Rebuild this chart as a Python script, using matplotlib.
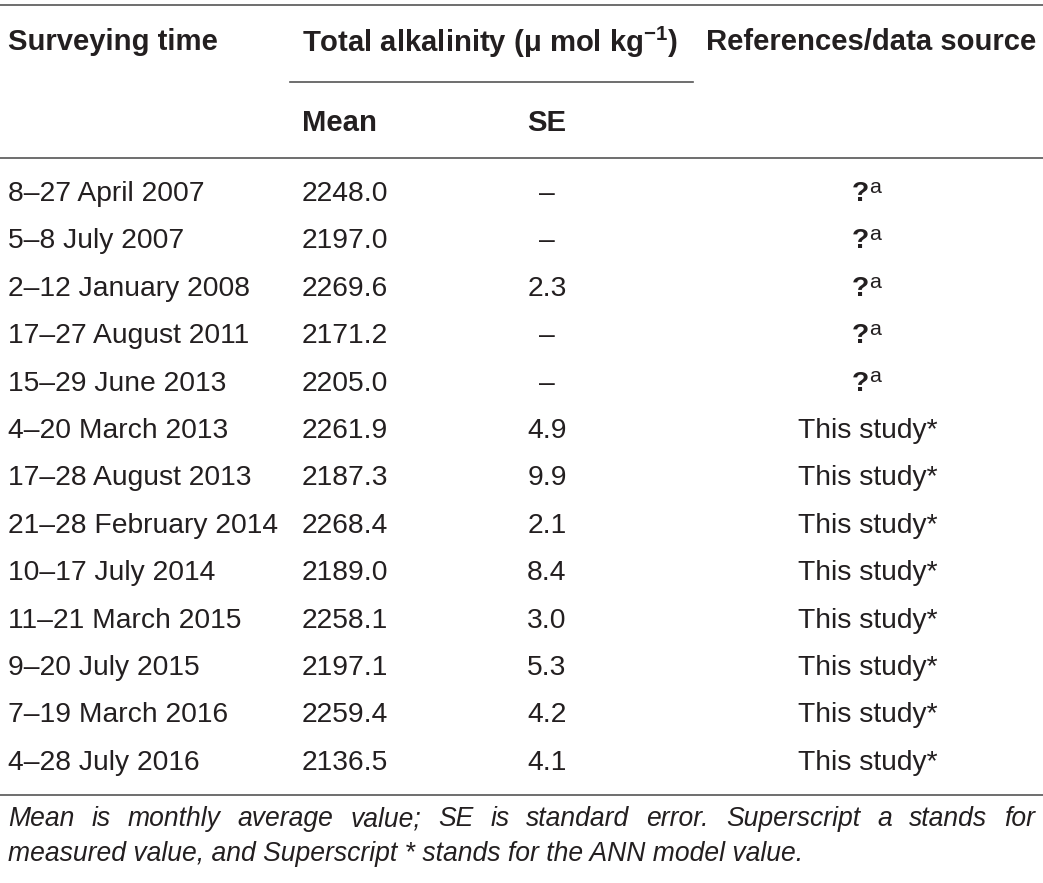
import matplotlib
matplotlib.use("Agg")
import matplotlib.pyplot as plt
from matplotlib.lines import Line2D

plt.rcParams['font.family'] = ['Liberation Sans', 'DejaVu Sans']
plt.rcParams['mathtext.fontset'] = 'custom'
plt.rcParams['mathtext.rm'] = 'Liberation Sans'
plt.rcParams['mathtext.bf'] = 'Liberation Sans:bold'

times = ["8–27 April 2007", "5–8 July 2007", "2–12 January 2008", "17–27 August 2011",
         "15–29 June 2013", "4–20 March 2013", "17–28 August 2013", "21–28 February 2014",
         "10–17 July 2014", "11–21 March 2015", "9–20 July 2015", "7–19 March 2016",
         "4–28 July 2016"]
means = [2248.0, 2197.0, 2269.6, 2171.2, 2205.0, 2261.9, 2187.3, 2268.4, 2189.0,
         2258.1, 2197.1, 2259.4, 2136.5]
ses = [None, None, 2.3, None, None, 4.9, 9.9, 2.1, 8.4, 3.0, 5.3, 4.2, 4.1]
measured = [True, True, True, True, True, False, False, False, False, False, False, False, False]
footnote = ["Mean is monthly average value; SE is standard error. Superscript a stands for",
            "measured value, and Superscript * stands for the ANN model value."]

W, H = 1043, 883
fig = plt.figure(figsize=(W / 100, H / 100), dpi=100)
ax = fig.add_axes([0, 0, 1, 1])
ax.set_xlim(0, W)
ax.set_ylim(H, 0)
ax.axis('off')

fs = 20.3
hfs = 21.1
ffs = 19.1
tc = '#231f20'
lc = '#555555'

def hline(x0, x1, y):
    ax.add_line(Line2D([x0, x1], [y, y], color=lc, lw=1.2))

hline(0, W, 5)
hline(290, 693, 82)
hline(0, W, 158)
hline(0, W, 795)

ax.text(8, 42, "Surveying time", fontsize=hfs, fontweight='bold', va='center', color=tc)
ax.text(302, 42, r"Total alkalinity ($\mathregular{\mu}$ mol kg$^{\mathbf{-1}}$)",
        fontsize=hfs, fontweight='bold', va='center', color=tc)
ax.text(706, 42, "References/data source", fontsize=hfs, fontweight='bold',
        va='center', color=tc)
ax.text(302, 123, "Mean", fontsize=hfs, fontweight='bold', va='center', color=tc)
ax.text(547, 123, "SE", fontsize=hfs, fontweight='bold', va='center', ha='center', color=tc)

y0, dy = 194, 47.4
for i in range(len(times)):
    y = y0 + i * dy
    ax.text(8, y, times[i], fontsize=fs, va='center', color=tc)
    ax.text(302, y, f"{means[i]:.1f}", fontsize=fs, va='center', color=tc)
    ax.text(547, y, "–" if ses[i] is None else f"{ses[i]:.1f}", fontsize=fs,
            va='center', ha='center', color=tc)
    if measured[i]:
        q = ax.text(869, y, "?", fontsize=fs, fontweight='bold', va='center',
                    ha='right', color=tc)
        ax.annotate("a", xy=(1.0, 1.12), xycoords=q, fontsize=fs * 0.76,
                    va='top', ha='left', color=tc, fontweight='light')
    else:
        ax.text(868, y, "This study*", fontsize=fs, va='center', ha='center', color=tc)

# footnote, first line justified to the full width
fig.canvas.draw()
r = fig.canvas.get_renderer()
words = footnote[0].split()
arts = [ax.text(0, 819, w, fontsize=ffs, style='italic', va='center', color=tc)
        for w in words]
widths = [a.get_window_extent(r).width for a in arts]
gap = (1035 - 8 - sum(widths)) / (len(words) - 1)
x = 8
for a, w in zip(arts, widths):
    a.set_x(x)
    x += w + gap
ax.text(8, 854, footnote[1], fontsize=ffs, style='italic', va='center', color=tc)

fig.savefig("out.png", dpi=100)
